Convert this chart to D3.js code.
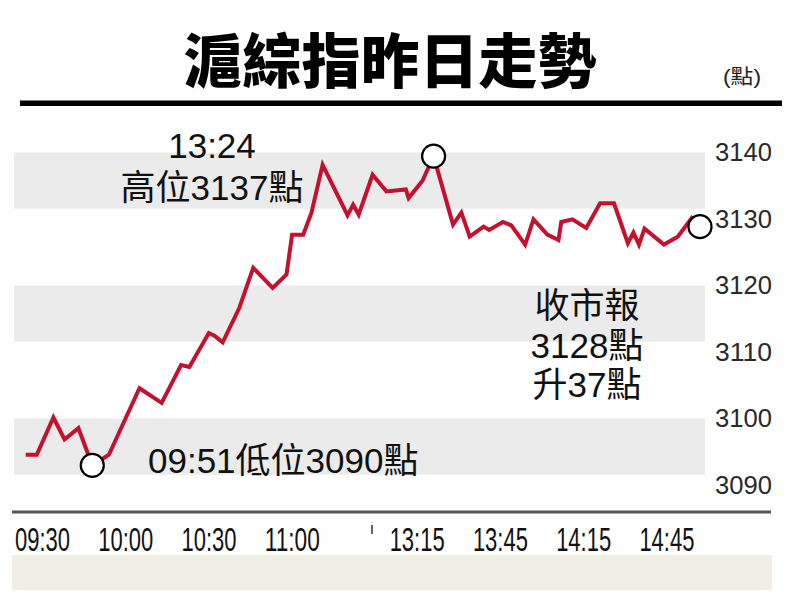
<!DOCTYPE html>
<html><head><meta charset="utf-8">
<script src="https://cdn.jsdelivr.net/npm/d3@7"></script>
<style>body{margin:0;background:#fff}</style>
</head><body>
<svg id="c" width="800" height="610"></svg>
<script>
// ---- data ----
const times = ["09:27","09:31","09:37","09:41","09:46","09:51","09:57","10:08","10:16","10:23","10:26","10:33","10:35","10:38","10:44","10:49","10:56","11:01","11:03","11:07","11:10","11:14","11:23","11:25","11:27","13:02","13:07","13:14","13:15","13:20","13:24","13:31","13:34","13:37","13:42","13:44","13:49","13:52","13:57","14:00","14:05","14:09","14:10","14:14","14:19","14:24","14:29","14:34","14:36","14:38","14:40","14:47","14:52","14:57","15:00"];
const values = [3094.4,3094.4,3100.0,3096.7,3098.4,3092.8,3094.4,3104.4,3102.2,3107.9,3107.6,3112.7,3112.3,3111.3,3116.5,3122.5,3119.5,3121.5,3127.5,3127.5,3130.8,3138.0,3130.4,3132.0,3130.5,3136.5,3134.0,3134.3,3133.0,3135.6,3139.3,3129.0,3130.8,3127.2,3128.7,3128.2,3129.4,3128.9,3126.0,3129.8,3127.5,3126.7,3129.4,3129.8,3128.5,3132.2,3132.2,3126.2,3127.8,3126.0,3128.4,3126.0,3127.2,3130.0,3128.7];
const yTicks = [3090,3100,3110,3120,3130,3140];
const bandTicks = [3140,3120,3100];
const xTickLabels = ["09:30","10:00","10:30","11:00","13:15","13:45","14:15","14:45"];
const breakTime = "11:30";
const markerTimes = ["09:51","13:24","15:00"];
const title = "滬綜指昨日走勢";
const unitLabel = "(點)";
const highLabel = ["13:24","高位3137點"];
const lowLabel = "09:51低位3090點";
const closeLabel = ["收市報","3128點","升37點"];

// ---- helpers ----
function tradeMin(s){
  const [h,m] = s.split(":").map(Number);
  let v = h*60+m-570;
  if (h >= 13) v -= 90;
  return v;
}
const data = times.map((t,i)=>({t, m: tradeMin(t), v: values[i]}));

const svg = d3.select("#c");
const x = d3.scaleLinear().domain([0,240]).range([34,700]);
const y = d3.scaleLinear().domain([3090,3140]).range([484,151.5]);

const cjk = "'Liberation Sans','Noto Sans CJK TC','Noto Sans CJK SC',sans-serif";

// title
svg.append("text").attr("x",390).attr("y",83).attr("text-anchor","middle")
  .attr("font-family","'Noto Sans CJK TC',sans-serif").attr("font-weight",900)
  .attr("font-size",59).attr("fill","#000").text(title);
svg.append("text").attr("x",742).attr("y",84).attr("text-anchor","middle")
  .attr("font-family",cjk).attr("font-size",20).attr("fill","#222")
  .attr("textLength",38).attr("lengthAdjust","spacingAndGlyphs").text(unitLabel);
svg.append("rect").attr("x",20).attr("y",100.5).attr("width",762).attr("height",5.5).attr("fill","#000");

// bands
svg.append("g").selectAll("rect").data(bandTicks).join("rect")
  .attr("x",14).attr("width",691)
  .attr("y",d=>y(d-0.15)).attr("height",d=>y(d-8.6)-y(d-0.15))
  .attr("fill","#ebebeb");

// y axis labels
const yAxis = d3.axisRight(y).tickValues(yTicks).tickSize(0).tickFormat(d3.format("d"));
const gy = svg.append("g").attr("transform","translate(715,0)").call(yAxis);
gy.select(".domain").remove();
gy.selectAll("text").attr("x",0).attr("dy","0.35em")
  .attr("font-family","'Liberation Sans',Arial,sans-serif").attr("font-size",26).attr("fill","#2a2a2a")
  .attr("textLength",57).attr("lengthAdjust","spacingAndGlyphs");

// x axis
svg.append("line").attr("x1",12).attr("x2",771).attr("y1",512).attr("y2",512)
  .attr("stroke","#555").attr("stroke-width",3);
const xAxis = d3.axisBottom(x).tickValues(xTickLabels.map(tradeMin)).tickSize(0)
  .tickFormat((d,i)=>xTickLabels[i]);
const gx = svg.append("g").attr("transform","translate(0,512)").call(xAxis);
gx.select(".domain").remove();
gx.selectAll("text").attr("y",39).attr("dy",0).attr("dx",8)
  .attr("font-family","'Liberation Sans Narrow','Liberation Sans',sans-serif")
  .attr("font-size",34).attr("fill","#111")
  .attr("textLength",55).attr("lengthAdjust","spacingAndGlyphs");
svg.append("line").attr("x1",x(tradeMin(breakTime))+5).attr("x2",x(tradeMin(breakTime))+5)
  .attr("y1",525).attr("y2",534).attr("stroke","#333").attr("stroke-width",1.5);

// beige strip
svg.append("rect").attr("x",12).attr("y",555).attr("width",760).attr("height",35).attr("fill","#f1efe5");

// line
const line = d3.line().x(d=>x(d.m)).y(d=>y(d.v));
svg.append("path").datum(data).attr("d",line).attr("fill","none")
  .attr("stroke","#c3112f").attr("stroke-width",4).attr("stroke-linejoin","miter").attr("stroke-miterlimit",3);

// markers
svg.append("g").selectAll("circle").data(data.filter(d=>markerTimes.includes(d.t))).join("circle")
  .attr("cx",d=>x(d.m)).attr("cy",d=>y(d.v)).attr("r",11.5)
  .attr("fill","#fff").attr("stroke","#000").attr("stroke-width",2.2);

// annotations
const ann = svg.append("g").attr("font-family",cjk).attr("font-size",35).attr("fill","#111").attr("text-anchor","middle");
ann.append("text").attr("x",212).attr("y",158).text(highLabel[0]);
ann.append("text").attr("x",212).attr("y",200).text(highLabel[1]);
ann.append("text").attr("x",148).attr("y",473).attr("text-anchor","start").text(lowLabel);
closeLabel.forEach((s,i)=>{
  ann.append("text").attr("x",587).attr("y",318+i*39.5).text(s);
});
</script>
</body></html>
